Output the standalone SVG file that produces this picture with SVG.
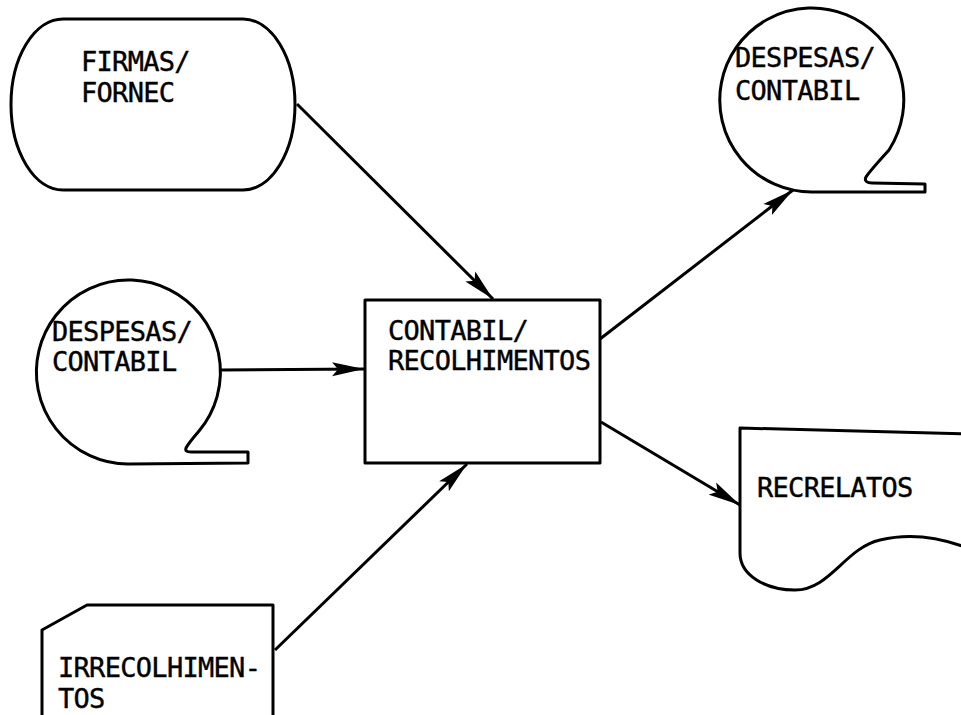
<svg xmlns="http://www.w3.org/2000/svg" width="961" height="715" viewBox="0 0 961 715">
<style>
.shape{fill:none;stroke:#000;stroke-width:3;stroke-linejoin:round}
.edge{fill:none;stroke:#000;stroke-width:3}
text{font-family:"DejaVu Sans Mono","Liberation Mono",monospace;font-size:27px;letter-spacing:-0.7px;fill:#000;stroke:#000;stroke-width:0.4}
</style>
<defs>
<marker id="arr" markerUnits="userSpaceOnUse" markerWidth="34" markerHeight="16" refX="32" refY="8" orient="auto">
<path d="M0,1 L32,8 L0,15 L6,8 Z" fill="#000"/>
</marker>
</defs>
<rect width="961" height="715" fill="#fff"/>
<g id="firmas">
<path class="shape" d="M63,19 L243,19 A52,85.5 0 0 1 243,190 L63,190 A52,85.5 0 0 1 63,19 Z"/>
<text x="81" y="71">FIRMAS/</text>
<text x="81" y="102">FORNEC</text>
</g>
<g id="despesas-in">
<path class="shape" d="M128,464 A92,92 0 1 1 199,431 C193,438 188,444 186,448 C185,451 187,452 191,452 L248,452 L248,463 Z"/>
<text x="52" y="341">DESPESAS/</text>
<text x="52" y="371">CONTABIL</text>
</g>
<g id="contabil">
<rect class="shape" x="365" y="300" width="235" height="163"/>
<text x="388" y="340">CONTABIL/</text>
<text x="388" y="370">RECOLHIMENTOS</text>
</g>
<g id="despesas-out">
<path class="shape" d="M812,192 A92,92 0 1 1 889,150 C879,161 869,172 866,177 C864,181 867,183 872,183 L925,184 L925,192 Z"/>
<text x="735" y="67">DESPESAS/</text>
<text x="735" y="100">CONTABIL</text>
</g>
<g id="irrecolhimentos">
<path class="shape" d="M42,720 L42,630 L87,605 L273,605 L273,720"/>
<text x="58" y="677">IRRECOLHIMEN-</text>
<text x="58" y="708">TOS</text>
</g>
<g id="recrelatos">
<path class="shape" d="M970,434 L740,428 L740,553 C740,575 765,590 795,590 C830,590 845,548 880,540 C905,534 935,535 970,549"/>
<text x="757" y="497">RECRELATOS</text>
</g>
<g id="connectors">
<line class="edge" x1="297" y1="104" x2="493" y2="299" marker-end="url(#arr)"/>
<line class="edge" x1="220" y1="370" x2="364" y2="369" marker-end="url(#arr)"/>
<line class="edge" x1="275" y1="650" x2="467" y2="464" marker-end="url(#arr)"/>
<line class="edge" x1="600" y1="339" x2="793" y2="190" marker-end="url(#arr)"/>
<line class="edge" x1="601" y1="422" x2="740" y2="505" marker-end="url(#arr)"/>
</g>
</svg>
